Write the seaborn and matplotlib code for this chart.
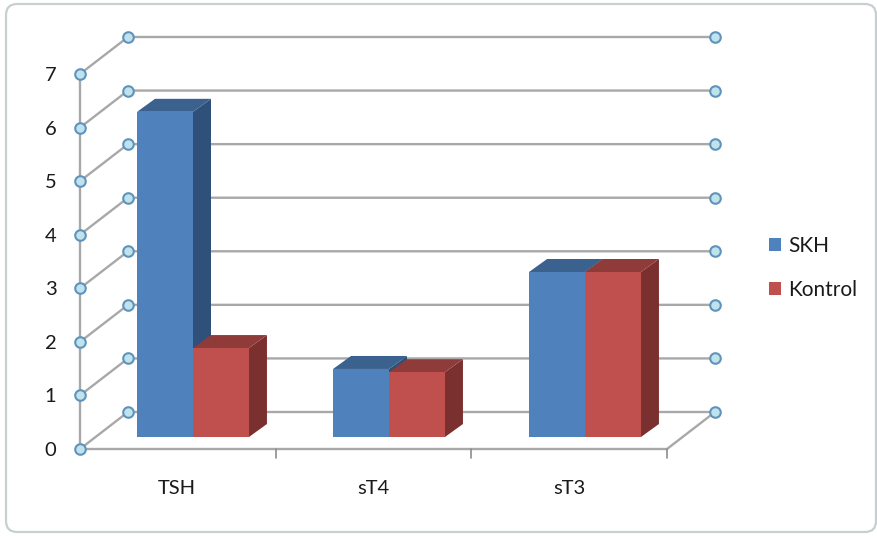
import matplotlib
matplotlib.use("Agg")
import matplotlib.pyplot as plt
from matplotlib.patches import FancyBboxPatch, Polygon
from matplotlib.transforms import IdentityTransform
import pandas as pd
import seaborn as sns

# Chart values
categories = ["TSH", "sT4", "sT3"]
skh_values = [6.07, 1.27, 3.08]
kontrol_values = [1.66, 1.21, 3.08]
series_names = ["SKH", "Kontrol"]
y_ticks = [0, 1, 2, 3, 4, 5, 6, 7]

FIG_W, FIG_H = 878, 536
PLOT_L, PLOT_R, PLOT_T, PLOT_B = 80, 667, 74, 449
CAT_STEP_PX = 196.0
UNIT_PX = (PLOT_B - PLOT_T) / 7

FRONT = {"SKH": "#4f81bd", "Kontrol": "#c0504d"}
TOP = {"SKH": "#3b618f", "Kontrol": "#8f3b39"}
SIDE = {"SKH": "#2f5078", "Kontrol": "#7a302e"}
LINE = "#a8a8a8"
DOT_FACE = "#bfe3ec"
DOT_EDGE = "#5f93bd"
TEXT = "#1a1a1a"

sns.set_style("white")
plt.rcParams["font.family"] = ["Lato", "DejaVu Sans"]

fig = plt.figure(figsize=(FIG_W / 100, FIG_H / 100), dpi=100, facecolor="white")

# Rounded chart-area border, in pixel coordinates, kept behind the axes
fig.add_artist(FancyBboxPatch(
    (6, FIG_H - 532), 870, 528, boxstyle="round,pad=0,rounding_size=11",
    transform=IdentityTransform(), facecolor="white", edgecolor="#c6d0d0", linewidth=1.6,
    zorder=-1,
))

ax = fig.add_axes([
    PLOT_L / FIG_W, 1 - PLOT_B / FIG_H,
    (PLOT_R - PLOT_L) / FIG_W, (PLOT_B - PLOT_T) / FIG_H,
])
ax.patch.set_alpha(0)


def dx(px):
    return px / CAT_STEP_PX


def dy(px):
    return px / UNIT_PX


data = pd.DataFrame({
    "category": categories * 2,
    "series": [series_names[0]] * 3 + [series_names[1]] * 3,
    "value": skh_values + kontrol_values,
})

sns.barplot(
    data=data, x="category", y="value", hue="series", order=categories,
    hue_order=series_names, palette=FRONT, width=0.571, gap=0, saturation=1,
    linewidth=0, errorbar=None, ax=ax,
)

ax.set_xlim(-113 / CAT_STEP_PX, (PLOT_R - 193) / CAT_STEP_PX)
ax.set_ylim(0, 7)

# Raise bars off the front floor edge and extrude their top and side faces
BAR_BASE = dy(12)
DEPTH_X, DEPTH_Y = dx(18), dy(13)
for container, name, z in zip(ax.containers, series_names, (3, 5)):
    for bar in container:
        bar.set_y(BAR_BASE)
        bar.set_zorder(z + 1)
        x0, x1 = bar.get_x(), bar.get_x() + bar.get_width()
        y0, y1 = bar.get_y(), bar.get_y() + bar.get_height()
        ax.add_patch(Polygon(
            [(x1, y0), (x1 + DEPTH_X, y0 + DEPTH_Y), (x1 + DEPTH_X, y1 + DEPTH_Y), (x1, y1)],
            facecolor=SIDE[name], edgecolor="none", zorder=z, clip_on=False))
        ax.add_patch(Polygon(
            [(x0, y1), (x1, y1), (x1 + DEPTH_X, y1 + DEPTH_Y), (x0 + DEPTH_X, y1 + DEPTH_Y)],
            facecolor=TOP[name], edgecolor="none", zorder=z, clip_on=False))

# Floor and wall lines of the 3-D frame
x_front = ax.get_xlim()[0]
x_end = ax.get_xlim()[1]
WALL_X, WALL_Y = dx(48), dy(37)
line_kw = dict(color=LINE, linewidth=1.7, clip_on=False, solid_capstyle="round")
ax.plot([x_front, x_front], [0, 7], zorder=1, **line_kw)
ax.plot([x_front, x_end, x_end + WALL_X], [0, 0, WALL_Y], zorder=1, **line_kw)
for v in y_ticks:
    ax.plot([x_front, x_front + WALL_X, x_end + WALL_X],
            [v, v + WALL_Y, v + WALL_Y], zorder=1, **line_kw)
    ax.plot([x_front, x_front + WALL_X, x_end + WALL_X],
            [v, v + WALL_Y, v + WALL_Y], linestyle="none", marker="o", markersize=7.6,
            markerfacecolor=DOT_FACE, markeredgecolor=DOT_EDGE, markeredgewidth=1.5,
            zorder=2, clip_on=False)

# Separators between categories along the floor edge
for k in (1, 2, 3):
    ax.plot([x_front + k * (x_end - x_front) / 3] * 2, [0, -dy(9)],
            color="#8c8c8c", linewidth=1.2, zorder=1, clip_on=False)

sns.despine(ax=ax, left=True, bottom=True)
ax.set_xlabel("")
ax.set_ylabel("")
ax.set_yticks(y_ticks)
ax.set_xticks([i - 16 / CAT_STEP_PX for i in range(3)])
ax.set_xticklabels(categories)
ax.tick_params(axis="y", length=0, pad=17, labelsize=14.5, labelcolor=TEXT)
ax.tick_params(axis="x", length=0, pad=22, labelsize=14.5, labelcolor=TEXT)

handles, labels = ax.get_legend_handles_labels()
ax.legend(
    handles, labels, loc="center left", frameon=False, fontsize=15,
    bbox_to_anchor=((769 - PLOT_L) / (PLOT_R - PLOT_L), (PLOT_B - 268) / (PLOT_B - PLOT_T)),
    handlelength=0.58, handleheight=0.58, handletextpad=0.34, labelspacing=1.18,
    labelcolor=TEXT, borderpad=0, borderaxespad=0,
)

fig.savefig("out.png", dpi=100, facecolor="white")
